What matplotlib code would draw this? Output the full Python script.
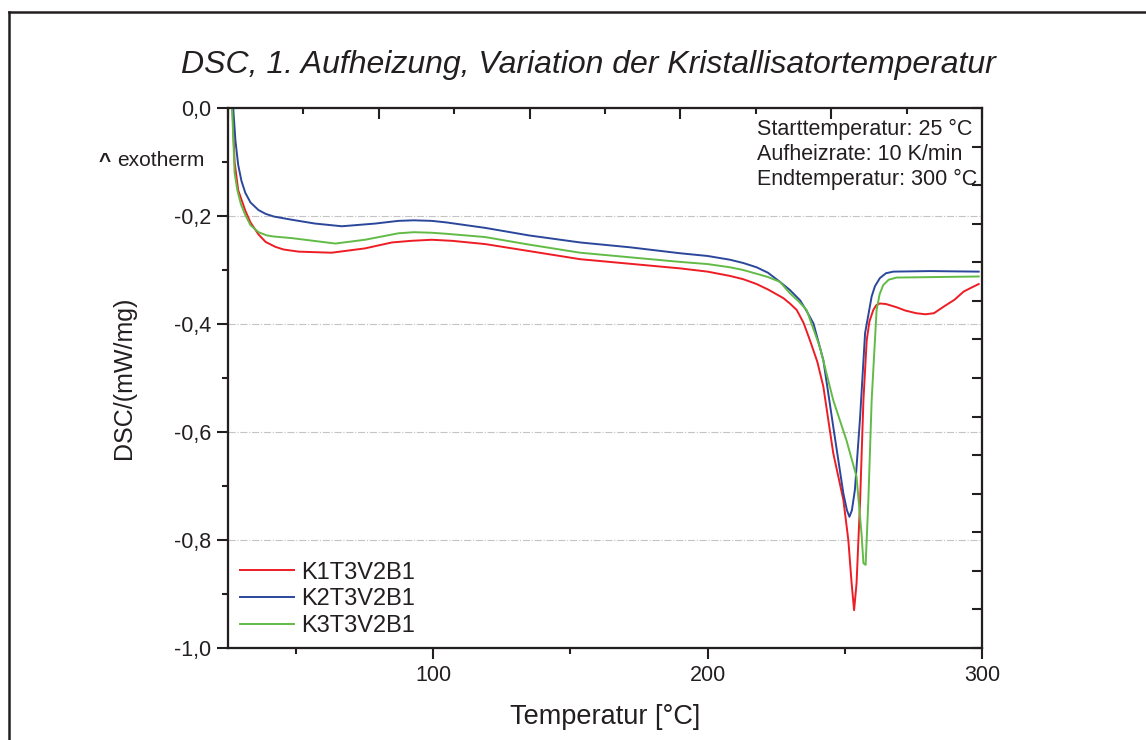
import numpy as np
import matplotlib
matplotlib.use('Agg')
import matplotlib.pyplot as plt
from matplotlib.ticker import FuncFormatter, MultipleLocator
from matplotlib.lines import Line2D

plt.rcParams['font.family'] = ['Liberation Sans', 'DejaVu Sans']

# DSC curves (temperature in degC, DSC in mW/mg)
t_k1 = [26.9, 27.7, 29.0, 31.6, 33.5, 36.4, 39, 42.5, 45.5, 51, 63, 75.2, 85, 92, 99.5,
        107, 119, 153.6, 190, 200, 208.2, 213, 217.9, 222, 227.6, 230, 232.5, 235, 237.3,
        240, 242.2, 245.8, 249.5, 251.3, 252.5, 253.4, 254.3, 255.6, 256.8, 258, 259,
        260.4, 261.5, 262.8, 265, 268.9, 272, 276, 279.4, 282.5, 286, 290, 293.3, 296, 298.8]
dsc_k1 = [0.0, -0.10, -0.152, -0.190, -0.212, -0.234, -0.248, -0.257, -0.262, -0.266,
          -0.268, -0.260, -0.249, -0.246, -0.244, -0.246, -0.252, -0.280, -0.297, -0.303,
          -0.311, -0.317, -0.326, -0.336, -0.352, -0.362, -0.374, -0.398, -0.430, -0.470,
          -0.516, -0.639, -0.726, -0.800, -0.880, -0.930, -0.880, -0.726, -0.541, -0.430,
          -0.395, -0.374, -0.365, -0.362, -0.363, -0.369, -0.375, -0.380, -0.382, -0.380,
          -0.368, -0.355, -0.340, -0.333, -0.326]

t_k2 = [27.2, 28.0, 29.0, 30.2, 31.6, 33.5, 36.4, 39, 42, 48.6, 57, 66.8, 78.9, 87.4,
        93, 99.5, 105, 109.2, 119, 135, 153.6, 171.8, 190, 200, 208.2, 213, 217.9, 222,
        226.4, 230, 233.7, 236, 238.6, 242.2, 245.8, 249.5, 250.8, 251.7, 252.6, 253.7,
        255.6, 257.4, 259.8, 261, 262.8, 265, 267.7, 281.1, 298.8]
dsc_k2 = [0.0, -0.06, -0.105, -0.135, -0.157, -0.175, -0.189, -0.196, -0.201, -0.207,
          -0.214, -0.219, -0.214, -0.209, -0.208, -0.209, -0.212, -0.215, -0.222, -0.236,
          -0.249, -0.258, -0.269, -0.274, -0.281, -0.287, -0.295, -0.305, -0.322, -0.337,
          -0.356, -0.375, -0.399, -0.467, -0.590, -0.714, -0.745, -0.757, -0.745, -0.707,
          -0.572, -0.417, -0.349, -0.330, -0.315, -0.306, -0.303, -0.302, -0.303]

t_k3 = [26.8, 27.7, 28.7, 30.0, 31.6, 33.5, 36.4, 39.5, 42, 48.6, 64.4, 75.2, 87.4, 93,
        99.5, 105, 119, 135, 153.6, 190, 200, 208.2, 213, 217.9, 222, 226.4, 230, 233,
        236.1, 240.9, 245.8, 250.6, 254.3, 256.1, 256.8, 257.6, 258.6, 259.8, 261.6, 262.7,
        264, 266, 268.9, 298.8]
dsc_k3 = [0.0, -0.12, -0.152, -0.178, -0.198, -0.217, -0.230, -0.236, -0.238, -0.241,
          -0.251, -0.244, -0.232, -0.230, -0.231, -0.233, -0.239, -0.253, -0.268, -0.285,
          -0.289, -0.295, -0.300, -0.307, -0.313, -0.322, -0.343, -0.357, -0.374, -0.442,
          -0.541, -0.615, -0.683, -0.788, -0.843, -0.846, -0.726, -0.541, -0.374, -0.345,
          -0.328, -0.318, -0.314, -0.312]

labels = ['K1T3V2B1', 'K2T3V2B1', 'K3T3V2B1']
colors = ['#ee1c24', '#2b479b', '#62bb46']
info = ['Starttemperatur: 25 °C', 'Aufheizrate: 10 K/min', 'Endtemperatur: 300 °C']

dark = '#231f20'
fig = plt.figure(figsize=(11.46, 7.4), dpi=100)
ax = fig.add_axes([228/1146, 1-648/740, 754/1146, 540/740])

for t, d, lab, c in zip([t_k1, t_k2, t_k3], [dsc_k1, dsc_k2, dsc_k3], labels, colors):
    ax.plot(t, d, color=c, lw=1.4, label=lab, solid_joinstyle='round')

ax.set_xlim(25.3, 300)
ax.set_ylim(-1.0, 0.0)
ax.xaxis.set_major_locator(MultipleLocator(100))
ax.xaxis.set_minor_locator(MultipleLocator(50))
ax.yaxis.set_major_locator(MultipleLocator(0.2))
ax.yaxis.set_minor_locator(MultipleLocator(0.1))
ax.yaxis.set_major_formatter(FuncFormatter(lambda v, p: ('%.1f' % v).replace('.', ',').replace('-0,0', '0,0')))
ax.tick_params(which='major', direction='out', length=8, width=1.5, color=dark,
               labelsize=15.5, labelcolor=dark, pad=4)
ax.tick_params(which='minor', direction='out', length=4.5, width=1.5, color=dark)
ax.grid(axis='y', which='major', color='#c4c4c4', ls='-.', lw=0.8)
for s in ax.spines.values():
    s.set_linewidth(1.5)
    s.set_color(dark)

# top and right axes with their own divisions, as in the original plot
axt = ax.twiny()
axt.set_xlim(0, 10)
axt.xaxis.set_major_locator(MultipleLocator(2))
axt.xaxis.set_minor_locator(MultipleLocator(1))
axt.tick_params(which='major', direction='in', length=8, width=1.5, color=dark, labeltop=False)
axt.tick_params(which='minor', direction='in', length=4.5, width=1.5, color=dark)
axr = ax.twinx()
axr.set_ylim(0, 14)
axr.yaxis.set_major_locator(MultipleLocator(1))
axr.tick_params(direction='in', length=7.5, width=1.5, color=dark, labelright=False)
for a in (axt, axr):
    for s in a.spines.values():
        s.set_linewidth(1.5)
        s.set_color(dark)

ax.set_xlabel('Temperatur [°C]', fontsize=19.5, color=dark)
ax.xaxis.set_label_coords(0.5, -0.103)
ax.set_ylabel('DSC/(mW/mg)', fontsize=18, color=dark)
ax.yaxis.set_label_coords(-0.122, 0.5)

leg = ax.legend(loc='lower left', bbox_to_anchor=(0.016, 0.02), frameon=False, fontsize=17,
                handlelength=2.3, handletextpad=0.3, labelspacing=0.2, borderpad=0,
                borderaxespad=0)
for txt in leg.get_texts():
    txt.set_color(dark)

fig.text(588/1146, 1-65/740, 'DSC, 1. Aufheizung, Variation der Kristallisatortemperatur',
         fontsize=23, style='italic', ha='center', va='center', color=dark)
for i, line in enumerate(info):
    fig.text(757/1146, 1-(129 + 25*i)/740, line, fontsize=15.5, ha='left', va='center', color=dark)
fig.text(99/1146, 1-162/740, '^', fontsize=15, fontweight='bold', ha='left', va='center', color=dark)
fig.text(117/1146, 1-160/740, 'exotherm', fontsize=15, ha='left', va='center', color=dark)

# outer frame (only top and left edges are visible)
fig.add_artist(Line2D([9/1146, 1], [1-12/740, 1-12/740], transform=fig.transFigure, color=dark, lw=1.8))
fig.add_artist(Line2D([9/1146, 9/1146], [0, 1-12/740], transform=fig.transFigure, color=dark, lw=1.8))

fig.savefig('out.png', dpi=100)
